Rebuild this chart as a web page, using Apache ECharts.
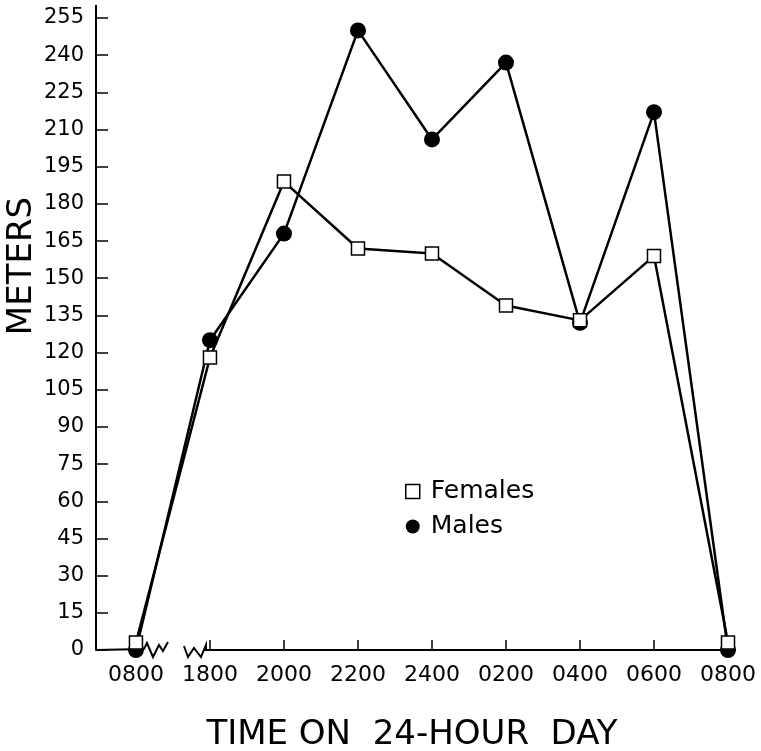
<!DOCTYPE html>
<html>
<head>
  <meta charset="utf-8">
  <title>meters</title>
  <script src="https://cdn.jsdelivr.net/npm/echarts@6/dist/echarts.min.js"></script>
  <style>
    html, body { margin: 0; padding: 0; background: #fff; }
  </style>
</head>
<body>
  <div id="main" style="width: 761px;height:751px;"></div>

  <script type="text/javascript">
    // 数据
    var times = ['0800', '1800', '2000', '2200', '2400', '0200', '0400', '0600', '0800'];
    var females = [3, 118, 189, 162, 160, 139, 133, 159, 3];
    var males = [0, 125, 168, 250, 206, 237, 132, 217, 0];
    var xLabelPos = [0, 1, 2, 3, 4, 5, 6, 7, 8];
    var xTickPos = [1, 2, 3, 4, 5, 6, 7, 8];

    var font = 'DejaVu Sans';
    var ink = '#000';
    var xMin = -0.54;

    var myChart = echarts.init(document.getElementById('main'));

    function toPairs(arr) {
      return arr.map(function (v, i) { return [i, v]; });
    }

    var option = {
      animation: false,
      grid: { left: 96, right: 33, top: 18, bottom: 101, containLabel: false, outerBoundsMode: 'none' },
      legend: {
        orient: 'vertical',
        left: 400,
        top: 474,
        itemWidth: 14,
        itemHeight: 14,
        itemGap: 10,
        textStyle: { fontFamily: font, fontSize: 25, color: ink, padding: [0, 0, 0, 6] },
        data: [
          { name: 'Females', icon: 'rect', itemStyle: { color: '#fff', borderColor: ink, borderWidth: 1.5 } },
          { name: 'Males', icon: 'circle', itemStyle: { color: ink } }
        ]
      },
      xAxis: {
        type: 'value',
        min: xMin,
        max: 8,
        axisLine: { show: false },
        splitLine: { show: false },
        axisTick: {
          inside: true,
          length: 10,
          customValues: xTickPos,
          lineStyle: { color: ink, width: 1.5 }
        },
        axisLabel: {
          customValues: xLabelPos,
          margin: 14,
          fontFamily: font,
          fontSize: 22,
          color: ink,
          formatter: function (v) { return times[Math.round(v)]; }
        },
        name: 'TIME ON  24-HOUR  DAY',
        nameLocation: 'middle',
        nameGap: 68,
        nameTextStyle: { fontFamily: font, fontSize: 34, color: ink }
      },
      yAxis: {
        type: 'value',
        min: 0,
        max: 255,
        interval: 15,
        axisLine: { show: true, onZero: false, lineStyle: { color: ink, width: 2 } },
        splitLine: { show: false },
        axisTick: {
          inside: true,
          length: 12,
          lineStyle: { color: ink, width: 1.5 }
        },
        axisLabel: {
          margin: 12,
          fontFamily: font,
          fontSize: 21,
          color: ink
        }
      },
      series: [
        {
          name: 'Males',
          type: 'line',
          data: toPairs(males),
          symbol: 'circle',
          symbolSize: 16,
          lineStyle: { color: ink, width: 2.5 },
          itemStyle: { color: ink },
          z: 2
        },
        {
          name: 'Females',
          type: 'line',
          data: toPairs(females),
          symbol: 'rect',
          symbolSize: 13,
          lineStyle: { color: ink, width: 2.5 },
          itemStyle: { color: '#fff', borderColor: ink, borderWidth: 1.5 },
          z: 3
        }
      ]
    };

    myChart.setOption(option);

    // x轴断开处的折线, y轴上端延长线和 y 轴标题
    var o = myChart.convertToPixel({ gridIndex: 0 }, [xMin, 0]);
    var a = myChart.convertToPixel({ gridIndex: 0 }, [0, 0]);
    var b = myChart.convertToPixel({ gridIndex: 0 }, [1, 0]);
    var e = myChart.convertToPixel({ gridIndex: 0 }, [8, 0]);
    var t = myChart.convertToPixel({ gridIndex: 0 }, [xMin, 255]);
    var y = o[1];

    myChart.setOption({
      graphic: [
        {
          type: 'polyline',
          z: 1,
          shape: {
            points: [[o[0], y], [a[0] + 8, y - 1], [a[0] + 11, y - 7], [a[0] + 17, y + 7],
              [a[0] + 23, y - 5], [a[0] + 27, y + 1], [a[0] + 32, y - 8]]
          },
          style: { stroke: ink, lineWidth: 2, fill: null }
        },
        {
          type: 'polyline',
          z: 1,
          shape: {
            points: [[b[0] - 26, y - 4], [b[0] - 22, y + 7], [b[0] - 16, y - 2], [b[0] - 9, y + 7],
              [b[0] - 4, y - 5], [b[0] - 4, y], [e[0], y]]
          },
          style: { stroke: ink, lineWidth: 2, fill: null }
        },
        {
          type: 'line',
          z: 1,
          shape: { x1: t[0], y1: t[1], x2: t[0], y2: 5 },
          style: { stroke: ink, lineWidth: 2 }
        },
        {
          type: 'text',
          x: 22,
          y: 266,
          rotation: Math.PI / 2,
          style: {
            text: 'METERS',
            fontFamily: font,
            fontSize: 34,
            fill: ink,
            align: 'center',
            verticalAlign: 'middle'
          }
        }
      ]
    });
  </script>
</body>
</html>
